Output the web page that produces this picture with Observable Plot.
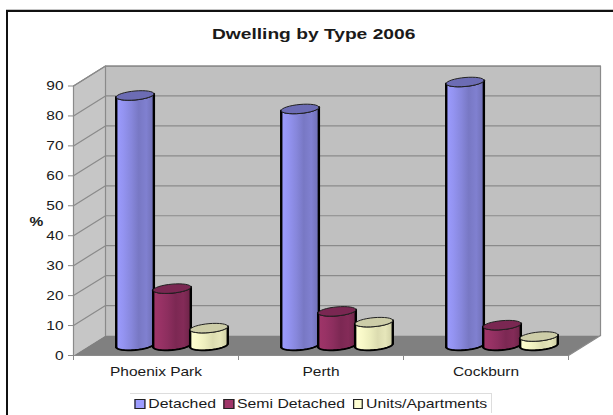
<!DOCTYPE html>
<html>
<head>
<meta charset="utf-8">
<script src="https://cdn.jsdelivr.net/npm/d3@7"></script>
<script src="https://cdn.jsdelivr.net/npm/@observablehq/plot@0.6"></script>
<style>
  html, body { margin: 0; padding: 0; background: #fff; width: 613px; height: 415px; overflow: hidden; }
  body { position: relative; font-family: "Liberation Sans", Arial, sans-serif; color: #1a1a1a; }
  #frame { position: absolute; left: 6px; top: 10px; width: 607px; height: 405px; border-left: 2px solid #111; border-top: 2px solid #111; box-shadow: 0 -1px 0 #c4c4c4; box-sizing: border-box; }
  #title { position: absolute; left: 1px; top: 0; width: 625px; height: 50px; line-height: 67px; text-align: center; font-weight: bold; font-size: 15px; transform: scaleX(1.28); transform-origin: 312px 0; }
  #chart { position: absolute; left: 0; top: 50px; }
  #legendBox { position: absolute; left: 130px; top: 393px; width: 362px; height: 20px; border-top: 1px solid #ddd; border-right: 1px solid #ddd; box-sizing: border-box; }
  #legend { position: absolute; left: 130px; top: 394px; width: 362px; height: 19px; display: flex; align-items: center; justify-content: center; gap: 6px; font-size: 12.8px; white-space: nowrap; transform: scaleX(1.235); }
  #legend i { display: inline-block; width: 6.5px; height: 7.5px; border: 1px solid #222; margin-right: 2.5px; vertical-align: -0.5px; }
</style>
</head>
<body>
<div id="frame"></div>
<div id="title">Dwelling by Type 2006</div>
<div id="chart"></div>
<div id="legendBox"></div>
<div id="legend"></div>
<script>
const categories = ["Phoenix Park", "Perth", "Cockburn"];
const seriesNames = ["Detached", "Semi Detached", "Units/Apartments"];
const detached = [83.5, 79, 88];
const semiDetached = [19, 11.4, 6.8];
const units = [5.8, 7.8, 3];
const yTicks = [0, 10, 20, 30, 40, 50, 60, 70, 80, 90];

const sideColors = [
  ["#9c9cff", "#9393f0", "#8787dc", "#7878c4", "#8080d0", "#6f6fb4"],
  ["#a03569", "#983265", "#8c2e5e", "#7c2853", "#842b58", "#6c2448"],
  ["#ffffd2", "#f8f8c8", "#ecedbd", "#dcdcb0", "#e6e6ba", "#cfcfa4"]
];
const capColors = ["#6c6cb4", "#7a2752", "#cdcda8"];

// The box recedes by this much: one step of depth in category and value units.
const depthX = 0.194;
const depthY = 6.67;
const at = (c, d, v) => ({c: c + depthX * d, v: v + depthY * d});

// Cylinder footprint, in the same units.
const radiusX = 0.114;
const radiusY = 1.5;
const tilt = 0.55;
const seriesOffset = [-0.224, 0, 0.224];

function rim(c, v, from, to, n = 16) {
  return d3.range(n + 1).map((i) => {
    const a = n ? from + (to - from) * i / n : from;
    return {c: c + radiusX * Math.cos(a), v: v + radiusY * Math.sin(a) + tilt * Math.cos(a)};
  });
}

const columns = categories.flatMap((name, i) =>
  [detached[i], semiDetached[i], units[i]].map((value, s) => ({
    s, value, c: i + 0.5 + depthX / 2 + seriesOffset[s]
  }))
);

const wallBack = [at(0, 1, 0), at(3, 1, 0), at(3, 1, 90), at(0, 1, 90)];
const wallSide = [at(0, 0, 0), at(0, 1, 0), at(0, 1, 90), at(0, 0, 90)];
const floor = [at(0, 0, 0), at(3, 0, 0), at(3, 1, 0), at(0, 1, 0)];

const polygon = (pts, fill, stroke = "none", strokeWidth = 1) =>
  Plot.line(pts, {x: "c", y: "v", fill, stroke, strokeWidth, curve: "linear-closed"});

// Labels run wide, so each text is stretched about its own anchor.
const stretch = (index, scales, values, dims, context, next) => {
  const g = next(index, scales, values, dims, context);
  d3.select(g).selectAll("text").attr("transform", function () {
    return `${this.getAttribute("transform") || ""} scale(1.21,1)`;
  });
  return g;
};

// Horizontal shading on the cylinder walls, one gradient per series.
const gradients = () => {
  const defs = d3.create("svg:defs");
  sideColors.forEach((stops, s) => {
    const g = defs.append("linearGradient").attr("id", `side${s}`);
    stops.forEach((color, k) => g.append("stop").attr("offset", k / (stops.length - 1)).attr("stop-color", color));
  });
  return defs.node();
};

const columnMarks = columns.flatMap(({s, value, c}) => {
  const base = depthY / 2;
  const top = value + base;
  const front = [...rim(c, base, Math.PI, 2 * Math.PI), ...rim(c, top, 0, -Math.PI)];
  const leftEdge = [rim(c, base, Math.PI, Math.PI, 0)[0], rim(c, top, Math.PI, Math.PI, 0)[0]];
  const rightEdge = [rim(c, base, 0, 0, 0)[0], rim(c, top, 0, 0, 0)[0]];
  return [
    polygon(front, `url(#side${s})`, "#000", 1),
    Plot.line(leftEdge, {x: "c", y: "v", stroke: "#000", strokeWidth: 2.4}),
    Plot.line(rightEdge, {x: "c", y: "v", stroke: "#000", strokeWidth: 2.4}),
    Plot.line(rim(c, base, Math.PI, 2 * Math.PI), {x: "c", y: "v", stroke: "#000", strokeWidth: 1.8}),
    polygon(rim(c, top, 0, 2 * Math.PI, 32), capColors[s], "#222", 1)
  ];
});

const chart = Plot.plot({
  width: 613,
  height: 335,
  margin: 0,
  style: {background: "none", overflow: "visible", fontFamily: "'Liberation Sans', Arial, sans-serif", color: "#1a1a1a"},
  x: {type: "linear", domain: [0, 3], range: [73, 568]},
  y: {type: "linear", domain: [0, 90], range: [305, 35.5]},
  marks: [
    gradients,
    polygon(wallSide, "#c6c6c6"),
    polygon(wallBack, "#c0c0c0"),
    polygon(floor, "#808080"),
    yTicks.map((t) => Plot.line([at(0, 0, t), at(0, 1, t), at(3, 1, t)], {x: "c", y: "v", stroke: "#8a8a8a", strokeWidth: t ? 1.2 : 0})),
    Plot.line([at(0, 0, 90), at(0, 1, 90), at(3, 1, 90), at(3, 1, 0)], {x: "c", y: "v", stroke: "#8a8a8a", strokeWidth: 1.2}),
    Plot.line([at(0, 1, 90), at(0, 1, 0)], {x: "c", y: "v", stroke: "#8a8a8a", strokeWidth: 1.2}),
    Plot.line([at(0, 0, 90), at(0, 0, 0), at(3, 0, 0), at(3, 1, 0)], {x: "c", y: "v", stroke: "#8a8a8a", strokeWidth: 1.2}),
    columnMarks,
    Plot.axisY({ticks: yTicks, tickSize: 5, tickPadding: 5, tickFormat: String, fontSize: 12.8, label: null, anchor: "left", x: 0, stroke: "#8a8a8a", fill: "#1a1a1a", render: stretch}),
    Plot.axisX({ticks: [0, 1, 2, 3], tickSize: 5, tickFormat: () => "", label: null, anchor: "bottom", y: 0, stroke: "#8a8a8a"}),
    Plot.text(categories, {x: (d, i) => i + 0.5, y: () => 0, dy: 16, text: (d) => d, fontSize: 12.8, fill: "#1a1a1a", render: stretch}),
    Plot.text(["%"], {x: () => 0, y: () => 44.5, dx: -37, text: (d) => d, fontSize: 12.8, fontWeight: "bold", fill: "#1a1a1a", render: stretch})
  ]
});
document.getElementById("chart").append(chart);

const legend = document.getElementById("legend");
seriesNames.forEach((name, s) => {
  const item = document.createElement("span");
  const swatch = document.createElement("i");
  swatch.style.background = sideColors[s][0];
  item.append(swatch, name);
  legend.append(item);
});
</script>
</body>
</html>
